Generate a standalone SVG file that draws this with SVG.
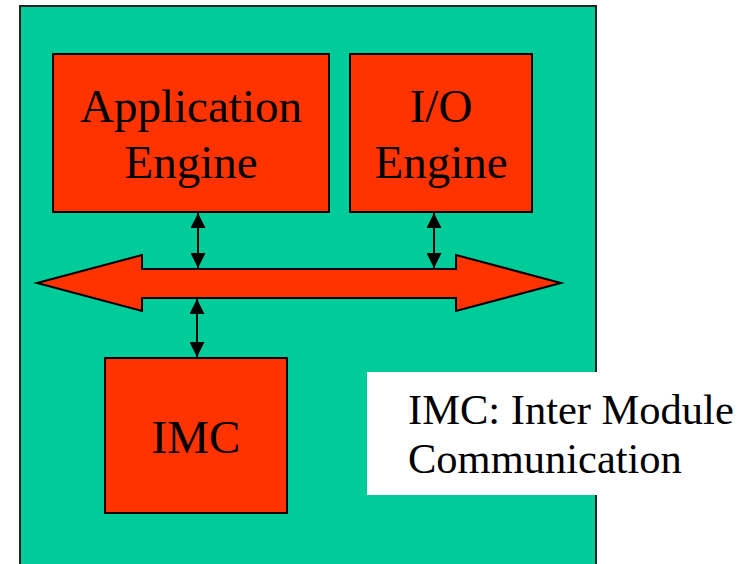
<svg xmlns="http://www.w3.org/2000/svg" width="740" height="564" viewBox="0 0 740 564">
  <style>
    .panel { fill: #00CC99; stroke: #222; stroke-width: 2; }
    .block { fill: #FF3300; stroke: #000; stroke-width: 2; }
    .bus { fill: #FF3300; stroke: #000; stroke-width: 2; stroke-linejoin: miter; }
    .link { stroke: #000; stroke-width: 2; fill: none; marker-start: url(#head); marker-end: url(#head); }
    .lbl { font-family: "Liberation Serif", "Times New Roman", serif; font-size: 47px; fill: #000; text-anchor: middle; }
    .note { font-family: "Liberation Serif", "Times New Roman", serif; font-size: 42.5px; fill: #000; }
  </style>
  <defs>
    <marker id="head" viewBox="0 0 10 10" refX="10" refY="5" markerWidth="7.5" markerHeight="7.5" orient="auto-start-reverse">
      <path d="M0,0 L10,5 L0,10 Z" fill="#000"/>
    </marker>
  </defs>

  <rect width="740" height="564" fill="#fff"/>

  <!-- enclosing module panel (open at the bottom edge) -->
  <rect class="panel" x="20" y="6" width="576" height="580"/>

  <!-- system bus -->
  <g id="bus">
    <path class="bus" d="M37,283 L142,255 L142,269 L456,269 L456,255 L561,283 L456,311 L456,298 L142,298 L142,311 Z"/>
  </g>

  <g id="app-engine">
    <rect class="block" x="53" y="54" width="276" height="158"/>
    <text class="lbl" x="191" y="122">Application</text>
    <text class="lbl" x="191" y="178">Engine</text>
  </g>

  <g id="io-engine">
    <rect class="block" x="350" y="54" width="182" height="158"/>
    <text class="lbl" x="441" y="122">I/O</text>
    <text class="lbl" x="441" y="178">Engine</text>
  </g>

  <g id="imc">
    <rect class="block" x="105" y="358" width="182" height="155"/>
    <text class="lbl" x="196" y="453">IMC</text>
  </g>

  <g id="connectors">
    <line class="link" x1="198" y1="213" x2="198" y2="268"/>
    <line class="link" x1="434" y1="213" x2="434" y2="268"/>
    <line class="link" x1="197" y1="299" x2="197" y2="357"/>
  </g>

  <g id="legend">
    <rect x="367" y="372" width="380" height="123" fill="#fff"/>
    <text class="note" x="408" y="424">IMC: Inter Module</text>
    <text class="note" x="408" y="473">Communication</text>
  </g>
</svg>
